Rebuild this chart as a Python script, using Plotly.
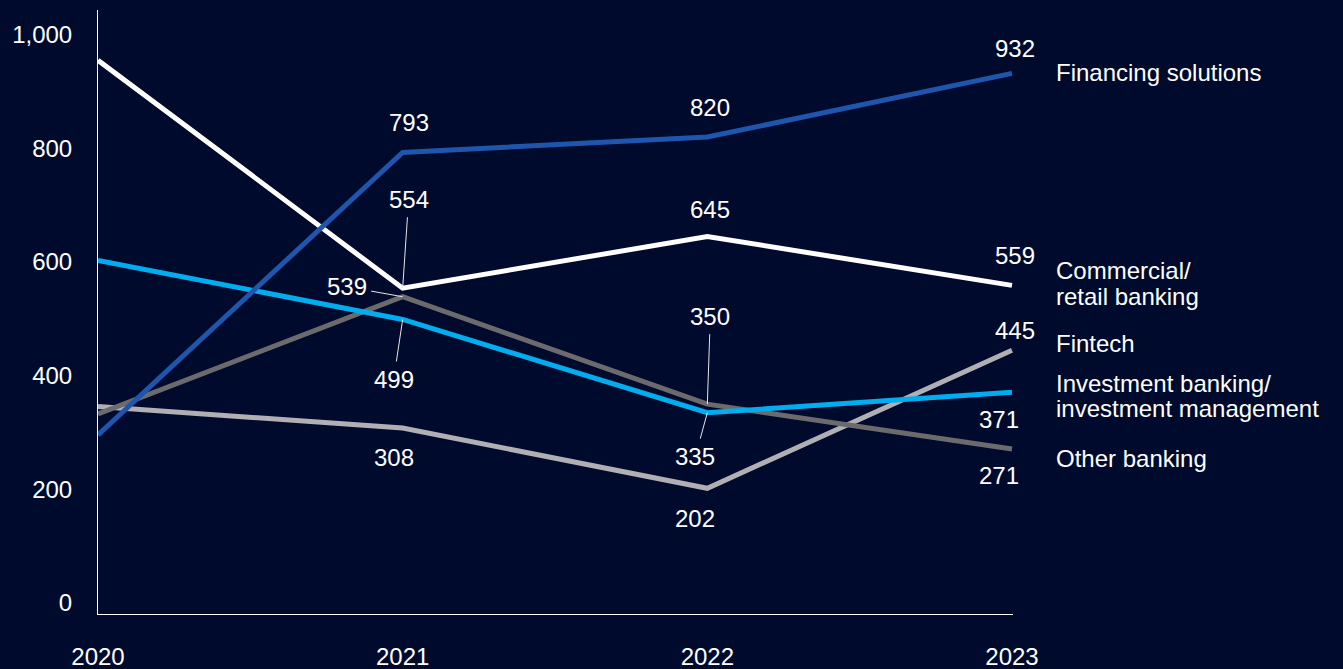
import plotly.graph_objects as go

years = [2020, 2021, 2022, 2023]
financing = [296, 793, 820, 932]
commercial = [955, 554, 645, 559]
fintech = [346, 308, 202, 445]
investment = [603, 499, 335, 371]
other = [333, 539, 350, 271]

BG = "#000a2c"
FONT = "Liberation Sans, Arial, sans-serif"
TXT = "#ffffff"

series = [
    ("Commercial/retail banking", commercial, "#ffffff"),
    ("Fintech", fintech, "#b0b0b4"),
    ("Other banking", other, "#6b6b6e"),
    ("Investment banking/investment management", investment, "#00aeef"),
    ("Financing solutions", financing, "#1f56ad"),
]

fig = go.Figure()
for name, vals, col in series:
    fig.add_trace(go.Scatter(x=years, y=vals, mode="lines", name=name,
                             line=dict(color=col, width=5), hoverinfo="skip"))

ann = []
def lab(x, y, xs, ys):
    ann.append(dict(x=x, y=y, xref="x", yref="y", text=str(y), showarrow=False,
                    xanchor="center", yanchor="middle", xshift=xs, yshift=ys,
                    font=dict(family=FONT, size=24, color=TXT)))

def lead(x, y, ax, ay):
    ann.append(dict(x=x, y=y, xref="x", yref="y", text=str(y), showarrow=True,
                    ax=ax, ay=ay, arrowhead=0, arrowwidth=1, arrowcolor="#e6e6e6",
                    borderpad=4, standoff=0,
                    font=dict(family=FONT, size=24, color=TXT)))

# 2021
lab(2021, financing[1], 6, 30)
lead(2021, commercial[1], 6, -89)
lead(2021, other[1], -56, -10)
lead(2021, investment[1], -9, 60)
lab(2021, fintech[1], -9, -29)
# 2022
lab(2022, financing[2], 3, 30)
lab(2022, commercial[2], 3, 27)
lead(2022, other[2], 3, -88)
lead(2022, investment[2], -12, 44)
lab(2022, fintech[2], -12, -30)
# 2023
lab(2023, financing[3], 3, 25)
lab(2023, commercial[3], 3, 30)
lab(2023, fintech[3], 3, 20)
lab(2023, investment[3], -13, -27)
lab(2023, other[3], -13, -26)

# right-side series names
def name_lbl(y, text, ys):
    ann.append(dict(x=2023, y=y, xref="x", yref="y", text=text, showarrow=False,
                    xanchor="left", yanchor="middle", xshift=42, yshift=ys,
                    font=dict(family=FONT, size=24, color=TXT)))

name_lbl(financing[3], "Financing solutions", 1)
name_lbl(commercial[3], "Commercial/", 15)
name_lbl(commercial[3], "retail banking", -11)
name_lbl(fintech[3], "Fintech", 7)
name_lbl(investment[3], "Investment banking/", 9)
name_lbl(investment[3], "investment management", -16)
name_lbl(other[3], "Other banking", -9)

fig.update_layout(
    width=1343, height=669,
    paper_bgcolor=BG, plot_bgcolor=BG,
    margin=dict(l=98, r=330, t=10, b=55, autoexpand=False),
    showlegend=False,
    annotations=ann,
    font=dict(family=FONT, size=24, color=TXT),
    xaxis=dict(range=[2020, 2023.0033], tickvals=years, ticktext=[str(y) for y in years],
               showgrid=False, zeroline=False, showline=True, linecolor="#ffffff", linewidth=1,
               ticks="", ticklabelstandoff=21, tickfont=dict(family=FONT, size=24, color=TXT),
               automargin=False, fixedrange=True),
    yaxis=dict(range=[-19.2, 1043.5], tickvals=[0, 200, 400, 600, 800, 1000],
               ticktext=["0", "200", "400", "600", "800", "1,000"],
               showgrid=False, zeroline=False, showline=True, linecolor="#ffffff", linewidth=1,
               ticks="", ticklabelstandoff=20, tickfont=dict(family=FONT, size=24, color=TXT),
               automargin=False, fixedrange=True),
)

fig.write_html(
    "out.html",
    config={"displayModeBar": False, "responsive": False},
    post_script="document.body.style.margin='0';document.body.style.background='%s';document.body.style.overflow='hidden';" % BG,
)
